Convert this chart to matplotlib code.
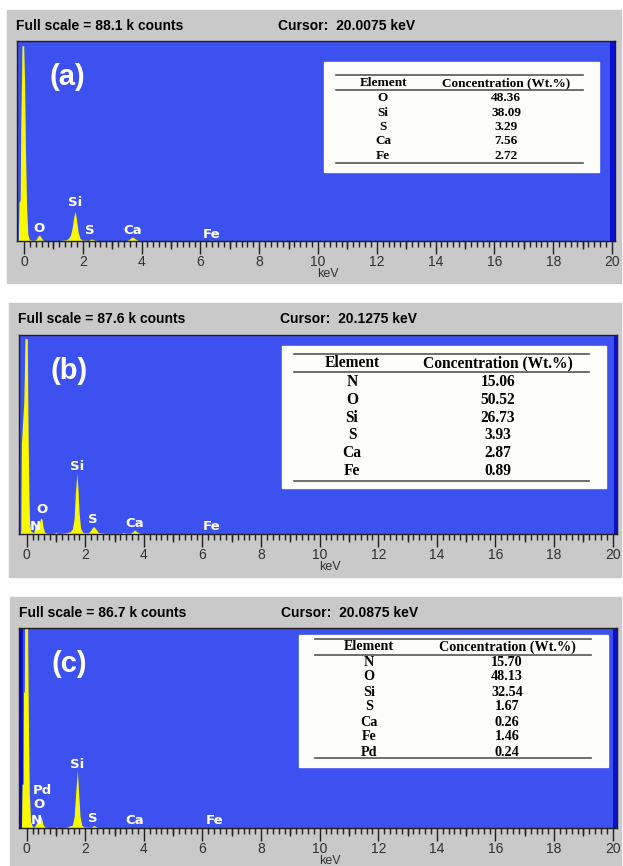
import matplotlib
matplotlib.use('Agg')
from matplotlib import pyplot as plt
from matplotlib.patches import Rectangle
from matplotlib.lines import Line2D

W, H = 623, 866

# spectra, keV vs k counts
energy_a = [-0.22, -0.19, -0.17, -0.13, -0.11, -0.08, -0.07, -0.01, 0.02, 0.05,
            0.09, 0.13, 0.18, 0.30, 0.40, 0.46, 0.52, 0.58, 0.65, 0.80,
            1.20, 1.42, 1.50, 1.58, 1.64, 1.69, 1.74, 1.79, 1.84, 1.90,
            1.98, 2.20, 2.26, 2.31, 2.36, 2.50, 3.50, 3.58, 3.64, 3.69,
            3.75, 3.82, 3.90, 6.30, 6.40, 6.50, 20.2]
counts_a = [0, 0.5, 17, 18, 52, 74, 86, 86, 70, 40,
            15, 3, 0.6, 0.3, 0.5, 1.8, 2.7, 1.6, 0.3, 0.2,
            0.2, 0.5, 1.0, 2.5, 6, 10.5, 13.2, 9, 4, 1.2,
            0.4, 0.3, 0.7, 0.9, 0.5, 0.2, 0.2, 0.8, 1.4, 1.7,
            1.3, 0.6, 0.2, 0.15, 0.35, 0.15, 0.1]

energy_b = [-0.22, -0.20, -0.18, -0.10, -0.08, -0.06, 0.02, 0.05, 0.08, 0.10,
            0.13, 0.17, 0.24, 0.29, 0.33, 0.39, 0.43, 0.47, 0.52, 0.56,
            0.61, 0.70, 0.95, 1.00, 1.05, 1.30, 1.48, 1.56, 1.62, 1.66,
            1.71, 1.75, 1.79, 1.84, 1.92, 2.10, 2.18, 2.25, 2.30, 2.36,
            2.45, 2.70, 3.25, 3.30, 3.38, 3.55, 3.62, 3.68, 3.74, 3.82,
            3.95, 6.35, 6.40, 6.45, 20.2]
counts_b = [0, 2, 40, 58, 70, 86, 86, 42, 14, 5,
            1.5, 1.0, 0.6, 3.5, 4.6, 4.2, 4.5, 7.0, 6.6, 3.0,
            0.8, 0.3, 0.3, 0.9, 0.3, 0.4, 1.0, 2.2, 7, 18,
            26.8, 20, 9, 2.5, 0.6, 0.5, 1.5, 3.0, 3.2, 2.2,
            0.6, 0.3, 0.3, 0.7, 0.3, 0.4, 1.0, 1.8, 1.2, 0.5,
            0.2, 0.2, 0.35, 0.2, 0.1]

energy_c = [-0.18, -0.16, -0.12, -0.11, -0.08, -0.07, 0.03, 0.06, 0.09, 0.13,
            0.20, 0.26, 0.32, 0.38, 0.45, 0.50, 0.56, 0.62, 0.75, 0.98,
            1.02, 1.06, 1.35, 1.48, 1.56, 1.62, 1.67, 1.73, 1.77, 1.82,
            1.88, 1.96, 2.20, 2.27, 2.32, 2.40, 2.60, 6.35, 6.40, 6.45,
            20.2]
counts_c = [0, 19, 19, 59, 59, 86.7, 86.7, 45, 15, 3,
            0.5, 0.5, 1.8, 3.6, 5.8, 4.5, 1.5, 0.4, 0.2, 0.2,
            0.6, 0.2, 0.3, 0.9, 1.3, 5, 15, 25.2, 16, 5,
            1.2, 0.4, 0.3, 1.0, 1.0, 0.3, 0.1, 0.1, 0.35, 0.1,
            0.1]

full_scale = [88.1, 87.6, 86.7]
cursor = [20.0075, 20.1275, 20.0875]
panel_names = ['(a)', '(b)', '(c)']

# peak labels: name, keV, height (fraction of full scale)
peak_names_a = ['O', 'Si', 'S', 'Ca', 'Fe']
peak_kev_a = [0.52, 1.74, 2.25, 3.69, 6.38]
peak_h_a = [0.065, 0.195, 0.05, 0.055, 0.035]

peak_names_b = ['N', 'O', 'Si', 'S', 'Ca', 'Fe']
peak_kev_b = [0.28, 0.51, 1.73, 2.25, 3.67, 6.31]
peak_h_b = [0.04, 0.125, 0.34, 0.075, 0.055, 0.04]

peak_names_c = ['N', 'O', 'Pd', 'Si', 'S', 'Ca', 'Fe']
peak_kev_c = [0.32, 0.43, 0.55, 1.73, 2.25, 3.67, 6.40]
peak_h_c = [0.04, 0.12, 0.19, 0.32, 0.045, 0.035, 0.04]

# tables
elements_a = ['O', 'Si', 'S', 'Ca', 'Fe']
conc_a = ['48.36', '38.09', '3.29', '7.56', '2.72']
elements_b = ['N', 'O', 'Si', 'S', 'Ca', 'Fe']
conc_b = ['15.06', '50.52', '26.73', '3.93', '2.87', '0.89']
elements_c = ['N', 'O', 'Si', 'S', 'Ca', 'Fe', 'Pd']
conc_c = ['15.70', '48.13', '32.54', '1.67', '0.26', '1.46', '0.24']

GREY = '#c9c9c9'
BLUE = '#3d50f0'
DARK = '#0a0fd2'
YELLOW = '#f8f800'
SANS = 'Liberation Sans'
SERIF = 'Liberation Serif'


def fx(px):
    return px / W


def fy(py):
    return 1 - py / H


def draw_panel(fig, geo, energy, counts, fs, cur, peaks, name, table, left_mark=None):
    gx0, gx1, gy0, gy1, L, R, T, B, x0, sc = geo
    fig.add_artist(Rectangle((fx(gx0), fy(gy1)), (gx1 - gx0) / W, (gy1 - gy0) / H,
                             transform=fig.transFigure, color=GREY, zorder=-1))
    ax = fig.add_axes([fx(L), fy(B), (R - L) / W, (B - T) / H])
    ax.set_facecolor(BLUE)
    xmin = -(x0 - L) / sc
    xmax = 20 + (R - (x0 + 20 * sc)) / sc
    ax.set_xlim(xmin, xmax)
    ax.set_ylim(0, fs)
    ax.axvspan(cur - 0.08, xmax, color=DARK, lw=0)
    if left_mark:
        ax.axvspan(left_mark[0], left_mark[1], color=DARK, lw=0)
    ax.fill_between(energy, counts, 0, color=YELLOW, lw=0)
    for s in ax.spines.values():
        s.set_color('#202020')
        s.set_linewidth(1)
    ax.set_yticks([])
    ax.set_xticks(range(0, 21, 2))
    ax.set_xticks([i * 0.2 for i in range(101)], minor=True)
    ax.tick_params(axis='x', which='major', length=9, width=1, color='#202020',
                   labelsize=10, labelcolor='#303030', pad=1)
    ax.tick_params(axis='x', which='minor', length=4, width=1, color='#202020')
    for lab in ax.get_xticklabels():
        lab.set_fontfamily(SANS)
    sec = ax.secondary_xaxis('bottom')
    sec.set_xticks(range(1, 20, 2))
    sec.tick_params(length=6, width=1, color='#202020', labelbottom=False)
    sec.spines['bottom'].set_visible(False)
    ax.text(10.35, -33 / (B - T), 'keV', transform=ax.get_xaxis_transform(),
            ha='center', va='center', fontsize=9, family=SANS, color='#303030')

    tr = ax.get_xaxis_transform()
    for n, k, h in zip(*peaks):
        ax.text(k, h, n, transform=tr, ha='center', va='center', color='white',
                fontsize=9.5, fontweight='bold', family='DejaVu Sans')
    fig.text(fx(L + 50), fy(T + 36), name, ha='center', va='center', color='white',
             fontsize=21, fontweight='bold', family=SANS)

    fig.text(fx(gx0 + 9), fy(gy0 + 16), 'Full scale = %.1f k counts' % fs,
             ha='left', va='center', fontsize=10, fontweight='bold', family=SANS)
    fig.text(fx(gx0 + 271), fy(gy0 + 16), 'Cursor:  %.4f keV' % cur,
             ha='left', va='center', fontsize=10, fontweight='bold', family=SANS)

    els, vals, box, lx, ly, cols, rows, fsz = table
    fig.add_artist(Rectangle((fx(box[0]), fy(box[3])), (box[1] - box[0]) / W,
                             (box[3] - box[2]) / H, transform=fig.transFigure,
                             color='#fdfdf9', zorder=4))
    for yy in ly:
        fig.add_artist(Line2D([fx(lx[0]), fx(lx[1])], [fy(yy), fy(yy)],
                              transform=fig.transFigure, color='#555555', lw=1.2, zorder=5))
    fig.text(fx(cols[0]), fy(rows[0]), 'Element', ha='center', va='center', fontsize=fsz,
             fontweight='bold', family=SERIF, zorder=6)
    fig.text(fx(cols[1]), fy(rows[0]), 'Concentration (Wt.%)', ha='center', va='center',
             fontsize=fsz, fontweight='bold', family=SERIF, zorder=6)
    for i, (e, v) in enumerate(zip(els, vals)):
        fig.text(fx(cols[0]), fy(rows[1] + i * rows[2]), e, ha='center', va='center',
                 fontsize=fsz, fontweight='bold', family=SERIF, zorder=6)
        fig.text(fx(cols[1]), fy(rows[1] + i * rows[2]), v, ha='center', va='center',
                 fontsize=fsz, fontweight='bold', family=SERIF, zorder=6)
    return ax


fig = plt.figure(figsize=(W / 100, H / 100), dpi=100)

geo_a = (7, 621, 10, 283, 17, 615, 41, 241, 24, 29.4)
geo_b = (9, 621, 303, 577, 19, 617, 335, 534, 26.7, 29.3)
geo_c = (10, 621, 597, 880, 19, 617, 628, 828, 26.7, 29.3)

table_a = (elements_a, conc_a, (324, 599, 62, 172), (336, 583), (75, 90, 163),
           (383, 506), (83, 98.3, 14.4), 9.5)
table_b = (elements_b, conc_b, (282, 606, 346, 488), (294, 589), (354, 372, 481),
           (352, 498), (363, 382, 17.8), 11.2)
table_c = (elements_c, conc_c, (299, 608, 635, 767), (315, 591), (639, 655, 758),
           (369, 507), (647, 662, 15), 10.2)

draw_panel(fig, geo_a, energy_a, counts_a, full_scale[0], cursor[0],
           (peak_names_a, peak_kev_a, peak_h_a), panel_names[0], table_a)
draw_panel(fig, geo_b, energy_b, counts_b, full_scale[1], cursor[1],
           (peak_names_b, peak_kev_b, peak_h_b), panel_names[1], table_b)
draw_panel(fig, geo_c, energy_c, counts_c, full_scale[2], cursor[2],
           (peak_names_c, peak_kev_c, peak_h_c), panel_names[2], table_c,
           left_mark=(-0.25, -0.12))

fig.savefig('out.png', dpi=100)
